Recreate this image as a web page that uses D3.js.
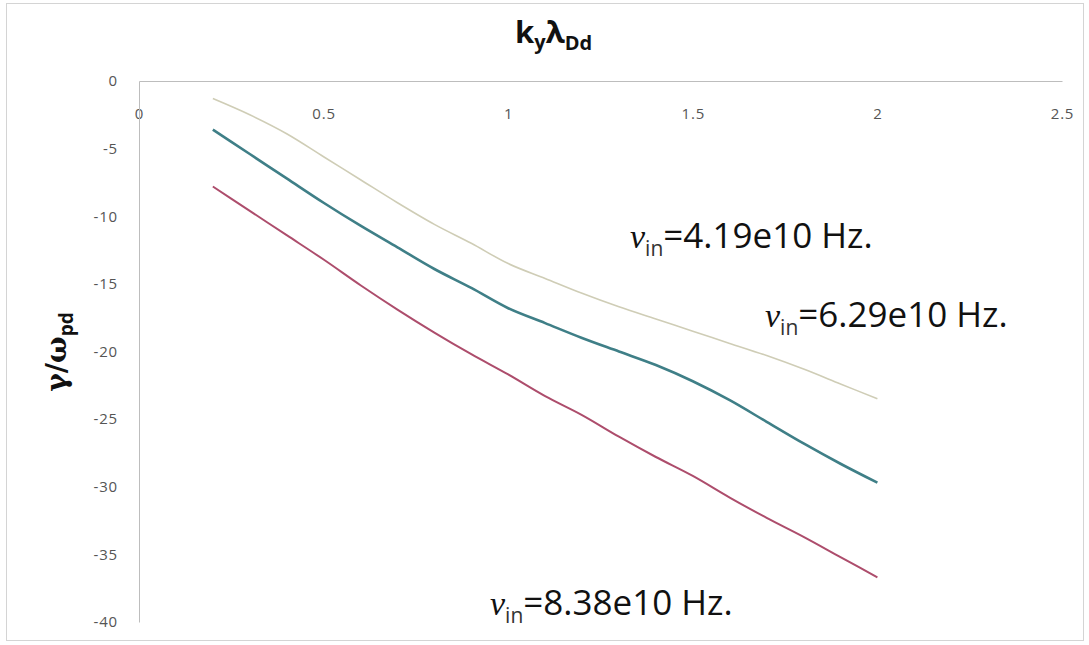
<!DOCTYPE html>
<html>
<head>
<meta charset="utf-8">
<script src="https://cdn.jsdelivr.net/npm/d3@7"></script>
<style>
  html, body { margin: 0; padding: 0; background: #fff; }
  svg { display: block; }
  .tick text { font-family: "Open Sans", sans-serif; font-size: 15px; fill: #555; letter-spacing: 0.8px; }
  .anno { font-family: "Open Sans", sans-serif; font-size: 35px; fill: #111; }
</style>
</head>
<body>
<svg id="chart" width="1089" height="645"></svg>
<script>
// ---- data ----
const kValues = [0.2, 0.3, 0.4, 0.5, 0.6, 0.7, 0.8, 0.9, 1.0, 1.1, 1.2, 1.3, 1.4, 1.5, 1.6, 1.7, 1.8, 1.9, 2.0];
const nu419 = [-1.3, -2.5, -3.9, -5.6, -7.3, -9.0, -10.6, -12.0, -13.5, -14.6, -15.7, -16.7, -17.6, -18.5, -19.4, -20.3, -21.3, -22.4, -23.5];
const nu629 = [-3.6, -5.4, -7.2, -9.0, -10.7, -12.3, -13.9, -15.3, -16.8, -17.9, -19.0, -20.0, -21.0, -22.2, -23.6, -25.2, -26.8, -28.3, -29.7];
const nu838 = [-7.8, -9.6, -11.4, -13.2, -15.1, -16.9, -18.6, -20.2, -21.7, -23.3, -24.7, -26.3, -27.8, -29.2, -30.8, -32.3, -33.7, -35.2, -36.7];
const xTicks = [0, 0.5, 1, 1.5, 2, 2.5];
const yTicks = [0, -5, -10, -15, -20, -25, -30, -35, -40];
const seriesNames = ["4.19e10", "6.29e10", "8.38e10"];
const seriesColors = ["#cfcdb6", "#3f7f87", "#ad4d6c"];
const seriesWidths = [1.6, 2.6, 2.0];

const svg = d3.select("#chart");

// outer chart border
svg.append("rect").attr("x", 6.5).attr("y", 3.5).attr("width", 1077).attr("height", 637)
  .attr("fill", "none").attr("stroke", "#d4d4d4").attr("stroke-width", 1);

const x = d3.scaleLinear().domain([0, 2.5]).range([139, 1062]);
const y = d3.scaleLinear().domain([-40, 0]).range([622, 81]);
const fmt = d => String(d);

// x axis (crosses at y = 0, labels below the line)
const xAxis = svg.append("g").attr("transform", `translate(0,${y(0)})`)
  .call(d3.axisBottom(x).tickValues(xTicks).tickFormat(fmt).tickSize(0).tickPadding(27));
xAxis.select(".domain").attr("stroke", "#bdbdbd");
xAxis.selectAll("text").attr("font-family", null).attr("font-size", null);

// y axis
const yAxis = svg.append("g").attr("transform", `translate(${x(0)},0)`)
  .call(d3.axisLeft(y).tickValues(yTicks).tickFormat(fmt).tickSize(0).tickPadding(21));
yAxis.select(".domain").attr("stroke", "#bdbdbd");
yAxis.selectAll("text").attr("font-family", null).attr("font-size", null);

// lines
const line = d3.line().x(d => x(d[0])).y(d => y(d[1])).curve(d3.curveMonotoneX);
[nu419, nu629, nu838].forEach((vals, i) => {
  svg.append("path")
    .datum(kValues.map((k, j) => [k, vals[j]]))
    .attr("fill", "none")
    .attr("stroke", seriesColors[i])
    .attr("stroke-width", seriesWidths[i])
    .attr("stroke-linejoin", "round")
    .attr("d", line);
});

// title k_y λ_Dd
const title = svg.append("text").attr("x", 515).attr("y", 43)
  .attr("font-family", "'Open Sans', sans-serif").attr("font-weight", "bold").attr("font-size", 31).attr("fill", "#111");
title.append("tspan").text("k");
title.append("tspan").attr("font-size", 20).attr("dy", 6).text("y");
title.append("tspan").attr("dy", -6).text("λ");
title.append("tspan").attr("font-size", 20).attr("dy", 7).text("Dd");

// y label γ/ω_pd
const ylab = svg.append("text").attr("transform", "translate(66,352) rotate(-90)")
  .attr("text-anchor", "middle")
  .attr("font-family", "'DejaVu Serif', serif").attr("font-weight", "bold").attr("font-size", 28).attr("fill", "#111");
ylab.append("tspan").text("γ/ω");
ylab.append("tspan").attr("font-family", "'Open Sans', sans-serif").attr("font-size", 19).attr("dy", 7).text("pd");

// annotations
const annos = [
  { name: seriesNames[0], x: 630, y: 248 },
  { name: seriesNames[1], x: 765, y: 327 },
  { name: seriesNames[2], x: 490, y: 615 }
];
annos.forEach(a => {
  const t = svg.append("text").attr("class", "anno").attr("x", a.x).attr("y", a.y);
  t.append("tspan").attr("font-family", "'Liberation Serif', serif").attr("font-style", "italic").attr("font-size", 34).text("ν");
  t.append("tspan").attr("font-size", 21).attr("dy", 8).attr("fill", "#333").text("in");
  t.append("tspan").attr("dy", -8).text("=" + a.name + " Hz.");
});
</script>
</body>
</html>
